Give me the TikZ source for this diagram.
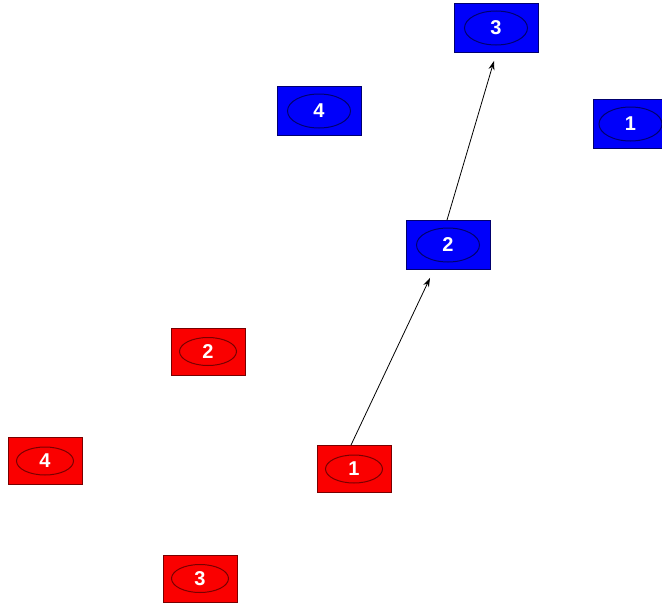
\documentclass[tikz,border=0pt]{standalone}
\usepackage{fontspec}
\setmainfont{Liberation Sans}
\usetikzlibrary{arrows.meta}
\definecolor{bfill}{RGB}{0,0,250}
\definecolor{bline}{RGB}{0,0,110}
\definecolor{rfill}{RGB}{250,0,0}
\definecolor{rline}{RGB}{120,0,0}
\tikzset{
  x=1pt,y=-1pt,
  bluebox/.style={draw=bline, line width=0.9pt, fill=bfill, minimum width=84pt, minimum height=49pt,
    inner sep=0pt, text=white, font=\fontsize{20}{20}\selectfont\bfseries,
    path picture={\draw[bline, line width=1pt] (path picture bounding box.center) ellipse (31.5pt and 17pt);}},
  redbox/.style={draw=rline, line width=0.9pt, fill=rfill, minimum width=74pt, minimum height=47pt,
    inner sep=0pt, text=white, font=\fontsize{20}{20}\selectfont\bfseries,
    path picture={\draw[rline, line width=1pt] (path picture bounding box.center) ellipse (28.5pt and 14pt);}},
  conn/.style={black, line width=0.8pt, -{Stealth[length=9pt,width=6pt]}}
}
\begin{document}
\begin{tikzpicture}
\useasboundingbox (0,0) rectangle (662,605);
\begin{scope}
\clip (0,0) rectangle (662,605);
\node[bluebox] (b3) at (496,28) {3};
\node[bluebox] (b4) at (319,111) {4};
\node[bluebox, minimum width=75pt] (b1) at (630.5,124) {1};
\node[bluebox] (b2) at (448,245) {2};
\node[redbox] (r2) at (208,351.5) {2};
\node[redbox] (r4) at (45,461) {4};
\node[redbox] (r1) at (354,469) {1};
\node[redbox] (r3) at (200,578.5) {3};
\end{scope}
\draw[conn] ([xshift=-3pt]r1.north) -- ([xshift=-18pt,yshift=-8pt]b2.south);
\draw[conn] ([xshift=-1pt]b2.north) -- ([xshift=-2pt,yshift=-8pt]b3.south);
\end{tikzpicture}
\end{document}
